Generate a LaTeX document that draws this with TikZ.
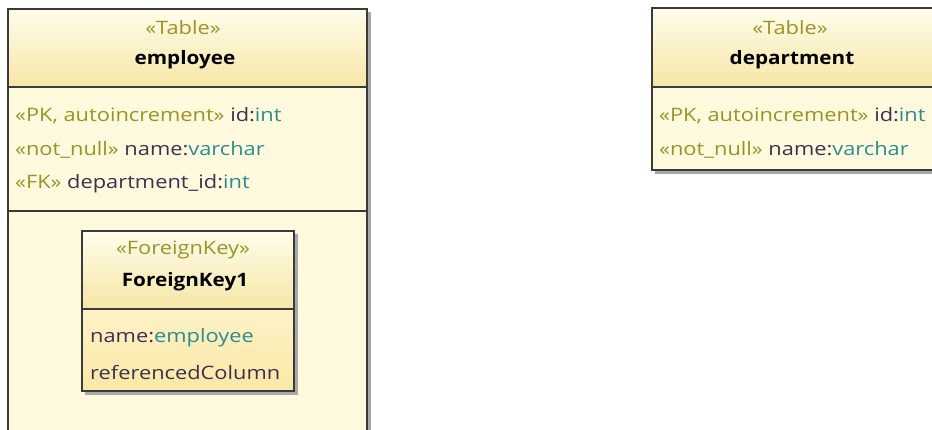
\documentclass[tikz,border=0pt]{standalone}
\usepackage{fontspec}
\setmainfont{Open Sans}[FakeStretch=1.18, BoldFeatures={FakeStretch=1.12}]
\definecolor{stereo}{HTML}{9A9326}
\definecolor{attrname}{HTML}{3E2F4C}
\definecolor{attrtype}{HTML}{2A8E8E}
\definecolor{hdtop}{HTML}{FFFDEB}
\definecolor{hdbot}{HTML}{F6E6A6}
\definecolor{bodyfill}{HTML}{FFF9DE}
\definecolor{fkbody}{HTML}{FBE8A6}
\definecolor{frame}{HTML}{3A3A3A}
\definecolor{shadowc}{HTML}{A8A8A8}
\tikzset{
  shadowbox/.style={fill=shadowc, draw=none},
  framebox/.style={draw=frame, line width=1.6pt},
  sep/.style={draw=frame, line width=1.6pt},
  stereotxt/.style={inner sep=0pt, text=stereo, font=\fontsize{18.5}{22}\selectfont},
  nametxt/.style={inner sep=0pt, text=black, font=\fontsize{18.5}{22}\selectfont\bfseries},
  attrtxt/.style={inner sep=0pt, anchor=west, font=\fontsize{18.5}{22}\selectfont},
}
\newcommand{\st}[1]{\textcolor{stereo}{«#1»}}
\newcommand{\an}[1]{\textcolor{attrname}{#1}}
\newcommand{\at}[1]{\textcolor{attrtype}{#1}}
\begin{document}
\begin{tikzpicture}[x=1pt,y=-1pt]
\useasboundingbox (0,0) rectangle (932,429);
\clip (0,0) rectangle (932,429);
% employee table
\fill[shadowbox] (11,12) rectangle (371,440);
\fill[top color=hdtop, bottom color=hdbot] (8,9) rectangle (367,87);
\fill[bodyfill] (8,87) rectangle (367,440);
\draw[framebox] (8,9) rectangle (367,440);
\draw[sep] (8,87) -- (367,87);
\draw[sep] (8,211) -- (367,211);
\node[stereotxt] (empst) at (183,28) {«Table»};
\node[nametxt] (empname) at (185,60) {employee};
\node[attrtxt] (empa1) at (15,116) {\st{PK, autoincrement} \an{id:}\at{int}};
\node[attrtxt] (empa2) at (15,150) {\st{not\_null} \an{name:}\at{varchar}};
\node[attrtxt] (empa3) at (15,184) {\st{FK} \an{department\_id:}\at{int}};
% foreign key box
\fill[shadowbox] (85,234) rectangle (298,395);
\fill[top color=hdtop, bottom color=hdbot] (82,231) rectangle (294,309);
\fill[top color=bodyfill!60!fkbody, bottom color=fkbody] (82,309) rectangle (294,391);
\draw[framebox] (82,231) rectangle (294,391);
\draw[sep] (82,309) -- (294,309);
\node[stereotxt] (fkst) at (183,250) {«ForeignKey»};
\node[nametxt] (fkname) at (185,282) {ForeignKey1};
\node[attrtxt] (fka1) at (90,338) {\an{name:}\at{employee}};
\node[attrtxt] (fka2) at (90,373) {\an{referencedColumn}};
% department table
\fill[shadowbox] (655,11) rectangle (950,174);
\fill[top color=hdtop, bottom color=hdbot] (652,8) rectangle (946,87);
\fill[bodyfill] (652,87) rectangle (946,170);
\draw[framebox] (652,8) rectangle (946,170);
\draw[sep] (652,87) -- (946,87);
\node[stereotxt] (depst) at (790,28) {«Table»};
\node[nametxt] (depname) at (792,60) {department};
\node[attrtxt] (depa1) at (659,116) {\st{PK, autoincrement} \an{id:}\at{int}};
\node[attrtxt] (depa2) at (659,150) {\st{not\_null} \an{name:}\at{varchar}};
\end{tikzpicture}
\end{document}
